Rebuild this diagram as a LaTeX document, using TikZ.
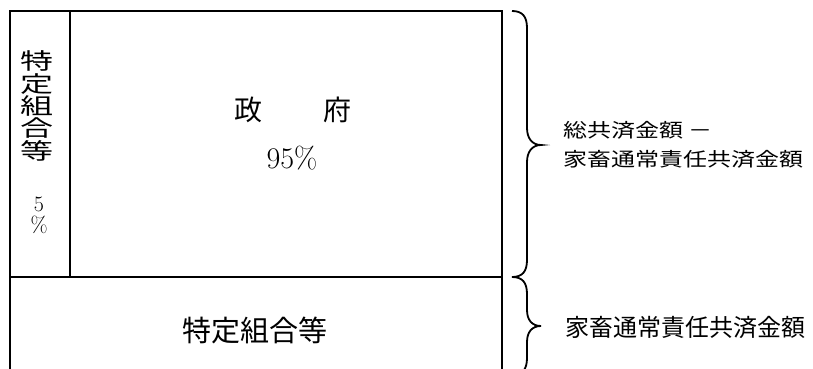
\documentclass[tikz,border=0pt]{standalone}
\usepackage{fontspec}
\newfontfamily\cjk{Noto Sans CJK JP}
\begin{document}
\begin{tikzpicture}[x=1pt,y=-1pt,
  frame/.style={line width=2pt, line cap=rect},
  bracepath/.style={line width=1.8pt},
  lbl/.style={inner sep=0pt, outer sep=0pt},
]
\useasboundingbox (0,0) rectangle (813,369);
\clip (0,0) rectangle (813,369);
% frame
\draw[frame] (10,380) -- (10,11) -- (502,11) -- (502,380);
\draw[frame] (10,277) -- (502,277);
\draw[frame] (70,11) -- (70,277);
% braces
\draw[bracepath] (512,11) .. controls (522,11) and (527,16) .. (527,28) -- (527,128)
  .. controls (527,138) and (532,145) .. (541,145)
  .. controls (532,145) and (527,152) .. (527,162) -- (527,260)
  .. controls (527,272) and (522,277) .. (512,277);
\draw[bracepath] (512,277) .. controls (522,277) and (527,282) .. (527,294) -- (527,310)
  .. controls (527,320) and (532,326) .. (541,326)
  .. controls (532,326) and (527,332) .. (527,342) -- (527,358)
  .. controls (527,370) and (522,375) .. (512,375);
% texts
\node[lbl, yscale=0.68, align=center, font=\cjk\fontsize{33}{33}\selectfont] (vtext) at (37,106)
  {特\\定\\組\\合\\等};
\node[lbl, font=\fontsize{22}{24}\selectfont] (vfive) at (39,204) {5};
\node[lbl, font=\fontsize{22}{24}\selectfont] (vpct) at (39,225) {\%};
\node[lbl, font=\cjk\fontsize{28}{30}\selectfont] (gov) at (293,110) {政\hspace{62pt}府};
\node[lbl, font=\fontsize{30}{36}\selectfont] (gpct) at (292,158) {95\%};
\node[lbl, font=\cjk\fontsize{29}{30}\selectfont] (bottom) at (255,330) {特定組合等};
\node[lbl, anchor=west, yscale=0.8, align=left, font=\cjk\fontsize{24}{36}\selectfont] (lab1) at (563,145)
  {総共済金額 －\\家畜通常責任共済金額};
\node[lbl, anchor=west, font=\cjk\fontsize{24}{30}\selectfont] (lab2) at (565,327) {家畜通常責任共済金額};
\end{tikzpicture}
\end{document}
